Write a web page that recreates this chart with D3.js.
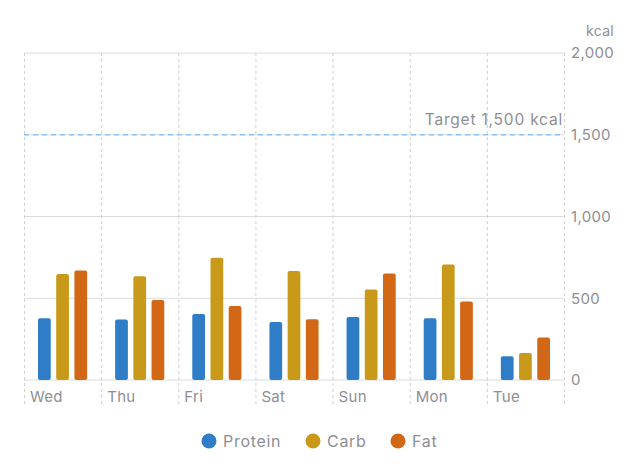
<!DOCTYPE html>
<html>
<head>
<meta charset="utf-8">
<script src="https://cdn.jsdelivr.net/npm/d3@7"></script>
<style>
  body { margin: 0; background: #fff; }
  text { font-family: Inter, "Noto Sans", sans-serif; }
</style>
</head>
<body>
<div id="chart"></div>
<script>
const days = ["Wed", "Thu", "Fri", "Sat", "Sun", "Mon", "Tue"];
const seriesNames = ["Protein", "Carb", "Fat"];
const protein = [378, 370, 403, 354, 385, 378, 145];
const carb = [648, 634, 747, 667, 554, 707, 165];
const fat = [670, 489, 452, 372, 652, 480, 260];
const yTicks = [0, 500, 1000, 1500, 2000];
const target = 1500;

const colors = { Protein: "#2e7dc6", Carb: "#c99a1a", Fat: "#d26816" };
const width = 640, height = 476;
const margin = { top: 53, right: 76, bottom: 96, left: 24 };
const innerW = width - margin.left - margin.right;
const innerH = height - margin.top - margin.bottom;

const data = days.map((d, i) => ({
  day: d,
  Protein: protein[i],
  Carb: carb[i],
  Fat: fat[i]
}));

const svg = d3.select("#chart")
  .append("svg")
  .attr("width", width)
  .attr("height", height);

const g = svg.append("g")
  .attr("transform", "translate(" + margin.left + "," + margin.top + ")");

const x = d3.scaleBand().domain(days).range([0, innerW]);
const x1 = d3.scaleBand().domain(seriesNames).range([14, x.bandwidth() - 14]).paddingInner(0.3);
const y = d3.scaleLinear().domain([0, 2000]).range([innerH, 0]);

// horizontal grid
g.append("g")
  .selectAll("line")
  .data(yTicks)
  .join("line")
  .attr("x1", 0)
  .attr("x2", innerW)
  .attr("y1", d => y(d))
  .attr("y2", d => y(d))
  .attr("stroke", "#dcdcdc")
  .attr("stroke-width", 1);

// vertical dashed grid
const vx = days.map(d => x(d)).concat([innerW]);
g.append("g")
  .selectAll("line")
  .data(vx)
  .join("line")
  .attr("x1", d => d + 0.5)
  .attr("x2", d => d + 0.5)
  .attr("y1", 0)
  .attr("y2", innerH + 26)
  .attr("stroke", "#cfcfcf")
  .attr("stroke-dasharray", "3,3");

// y axis on right
const yAxis = g.append("g")
  .attr("transform", "translate(" + innerW + ",0)")
  .call(d3.axisRight(y).tickValues(yTicks).tickSize(0).tickPadding(7).tickFormat(d3.format(",")));
yAxis.select(".domain").remove();
yAxis.selectAll("text")
  .attr("fill", "#8e8e93")
  .style("font-size", "15px")
  .style("letter-spacing", "0.3px");

svg.append("text")
  .attr("x", 614)
  .attr("y", 36)
  .attr("text-anchor", "end")
  .attr("fill", "#8e8e93")
  .style("font-size", "14px")
  .style("letter-spacing", "0.3px")
  .text("kcal");

// x axis labels
const xAxis = g.append("g")
  .attr("transform", "translate(0," + innerH + ")")
  .call(d3.axisBottom(x).tickSize(0).tickPadding(0));
xAxis.select(".domain").remove();
xAxis.selectAll(".tick")
  .attr("transform", d => "translate(" + (x(d) + 6) + ",0)");
xAxis.selectAll("text")
  .attr("text-anchor", "start")
  .attr("dy", "0")
  .attr("y", 22)
  .attr("fill", "#8e8e93")
  .style("font-size", "15px")
  .style("letter-spacing", "0.3px");

// bars
g.append("g")
  .selectAll("g")
  .data(data)
  .join("g")
  .attr("transform", d => "translate(" + x(d.day) + ",0)")
  .selectAll("rect")
  .data(d => seriesNames.map(k => ({ key: k, value: d[k] })))
  .join("rect")
  .attr("x", d => x1(d.key))
  .attr("y", d => y(d.value))
  .attr("width", x1.bandwidth())
  .attr("height", d => y(0) - y(d.value))
  .attr("rx", 2)
  .attr("fill", d => colors[d.key]);

// target line
g.append("line")
  .attr("x1", 0)
  .attr("x2", innerW)
  .attr("y1", y(target))
  .attr("y2", y(target))
  .attr("stroke", "#8cc4f5")
  .attr("stroke-width", 1.5)
  .attr("stroke-dasharray", "5,4");

g.append("text")
  .attr("x", innerW - 1)
  .attr("y", y(target) - 10)
  .attr("text-anchor", "end")
  .attr("fill", "#8e8e93")
  .style("font-size", "15.5px")
  .style("letter-spacing", "0.8px")
  .text("Target " + d3.format(",")(target) + " kcal");

// legend
const legendX = [209, 313, 398];
const legend = svg.append("g")
  .selectAll("g")
  .data(seriesNames)
  .join("g")
  .attr("transform", (d, i) => "translate(" + legendX[i] + ",441)");
legend.append("circle")
  .attr("r", 7.5)
  .attr("fill", d => colors[d]);
legend.append("text")
  .attr("x", 14)
  .attr("dy", "0.35em")
  .attr("fill", "#8e8e93")
  .style("font-size", "16px")
  .style("letter-spacing", "0.7px")
  .text(d => d);
</script>
</body>
</html>
